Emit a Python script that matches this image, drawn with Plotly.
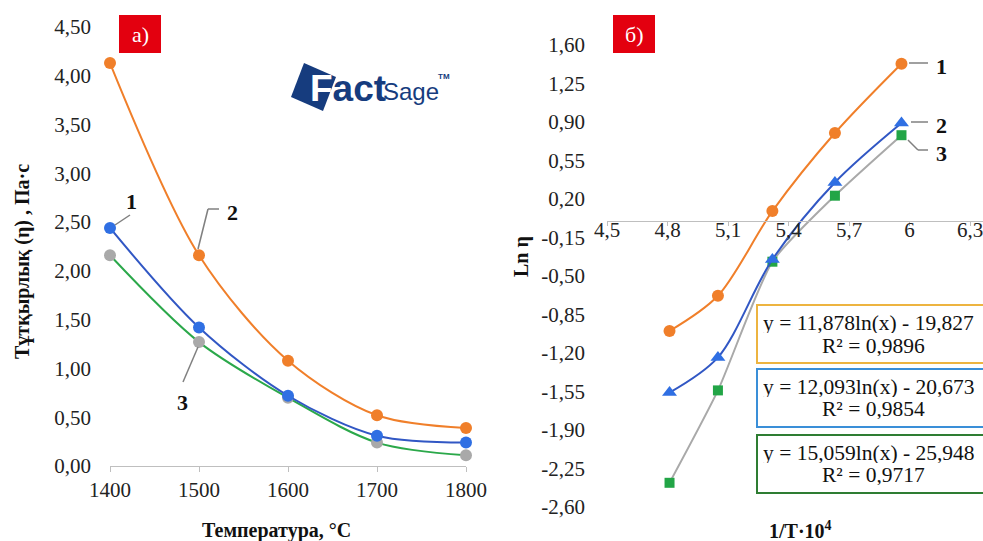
import plotly.graph_objects as go

W, H = 983, 541

# ---------------- data ----------------
temps = [1400, 1500, 1600, 1700, 1800]
eta_1 = [2.44, 1.42, 0.72, 0.31, 0.24]      # blue, label 1
eta_2 = [4.13, 2.16, 1.08, 0.52, 0.39]      # orange, label 2
eta_3 = [2.16, 1.27, 0.70, 0.24, 0.11]      # gray markers / green line, label 3

inv_T = [4.81, 5.05, 5.32, 5.63, 5.96]
ln_1 = [-1.00, -0.68, 0.09, 0.80, 1.43]     # orange circles
ln_2 = [-1.56, -1.24, -0.35, 0.35, 0.89]    # blue triangles
ln_3 = [-2.38, -1.54, -0.37, 0.23, 0.78]    # green squares

y1_ticks = [0, 0.5, 1.0, 1.5, 2.0, 2.5, 3.0, 3.5, 4.0, 4.5]
y1_labels = ["0,00", "0,50", "1,00", "1,50", "2,00", "2,50", "3,00", "3,50", "4,00", "4,50"]
x1_ticks = [1400, 1500, 1600, 1700, 1800]
x1_labels = ["1400", "1500", "1600", "1700", "1800"]

y2_ticks = [-2.60, -2.25, -1.90, -1.55, -1.20, -0.85, -0.50, -0.15, 0.20, 0.55, 0.90, 1.25, 1.60]
y2_labels = ["-2,60", "-2,25", "-1,90", "-1,55", "-1,20", "-0,85", "-0,50", "-0,15",
             "0,20", "0,55", "0,90", "1,25", "1,60"]
x2_ticks = [4.5, 4.8, 5.1, 5.4, 5.7, 6.0, 6.3]
x2_labels = ["4,5", "4,8", "5,1", "5,4", "5,7", "6", "6,3"]

eq_lines = [
    ("y = 11,878ln(x) - 19,827", "R² = 0,9896", "#EDB440"),
    ("y = 12,093ln(x) - 20,673", "R² = 0,9854", "#3A8FD8"),
    ("y = 15,059ln(x) - 25,948", "R² = 0,9717", "#2E7D32"),
]

# ---------------- helpers (window pixels -> paper fractions) ----------------
def px(x):
    return x / W

def py(y):
    return 1 - y / H

SERIF = "Liberation Serif, Times New Roman, serif"
ORANGE = "#F07F2A"
BLUE_L = "#3157C4"
BLUE_M = "#2F6FE3"
GRAY = "#A9A9A9"
GREEN = "#2BA84A"
GREEN_M = "#22A546"
AXIS = "#BFBFBF"
LEAD = "#808080"

fig = go.Figure()

# ---------------- left chart ----------------
fig.add_trace(go.Scatter(x=temps, y=eta_2, mode="lines+markers",
                         line=dict(color=ORANGE, width=2, shape="spline", smoothing=0.9),
                         marker=dict(color=ORANGE, size=12), cliponaxis=False,
                         xaxis="x", yaxis="y"))
fig.add_trace(go.Scatter(x=temps, y=eta_3, mode="lines+markers",
                         line=dict(color=GREEN, width=2, shape="spline", smoothing=0.9),
                         marker=dict(color=GRAY, size=12), cliponaxis=False,
                         xaxis="x", yaxis="y"))
fig.add_trace(go.Scatter(x=temps, y=eta_1, mode="lines+markers",
                         line=dict(color=BLUE_L, width=2, shape="spline", smoothing=0.9),
                         marker=dict(color=BLUE_M, size=12), cliponaxis=False,
                         xaxis="x", yaxis="y"))

# ---------------- right chart ----------------
fig.add_trace(go.Scatter(x=inv_T, y=ln_3, mode="lines+markers",
                         line=dict(color=GRAY, width=2, shape="spline", smoothing=0.6),
                         marker=dict(color=GREEN_M, size=10, symbol="square"), cliponaxis=False,
                         xaxis="x2", yaxis="y2"))
fig.add_trace(go.Scatter(x=inv_T, y=ln_2, mode="lines+markers",
                         line=dict(color=BLUE_L, width=2, shape="spline", smoothing=0.9),
                         marker=dict(color=BLUE_M, size=13, symbol="triangle-up"), cliponaxis=False,
                         xaxis="x2", yaxis="y2"))
fig.add_trace(go.Scatter(x=inv_T, y=ln_1, mode="lines+markers",
                         line=dict(color=ORANGE, width=2, shape="spline", smoothing=0.9),
                         marker=dict(color=ORANGE, size=12), cliponaxis=False,
                         xaxis="x2", yaxis="y2"))

# x2 range so that 4.5 sits at window px 607 and the axis runs to the right edge
x2_lo = 4.5
x2_hi = 4.5 + (983 - 607) / 201.7

tickfont = dict(family=SERIF, size=21, color="#222222")

fig.update_layout(
    width=W, height=H,
    margin=dict(l=0, r=0, t=0, b=0, autoexpand=False),
    paper_bgcolor="white", plot_bgcolor="white",
    showlegend=False,
    xaxis=dict(domain=[px(110), px(466)], range=[1400, 1800], anchor="y",
               tickvals=x1_ticks, ticktext=x1_labels, tickfont=tickfont,
               showline=True, linecolor=AXIS, linewidth=1,
               ticks="outside", ticklen=5, tickcolor=AXIS, automargin=False,
               showgrid=False, zeroline=False, fixedrange=True),
    yaxis=dict(domain=[py(466), py(27)], range=[0, 4.5], anchor="x",
               tickvals=y1_ticks, ticktext=y1_labels, tickfont=tickfont,
               showline=False, ticks="", showgrid=False, zeroline=False, automargin=False,
               ticklabelstandoff=18, fixedrange=True),
    xaxis2=dict(domain=[px(607), 1.0], range=[x2_lo, x2_hi], anchor="free",
                position=py(221),
                tickvals=x2_ticks, ticktext=x2_labels, tickfont=tickfont,
                showline=True, linecolor=AXIS, linewidth=1,
                ticks="outside", ticklen=4, tickcolor=AXIS, automargin=False,
                ticklabelstandoff=-14, ticklabeloverflow="allow",
                showgrid=False, zeroline=False, fixedrange=True),
    yaxis2=dict(domain=[py(507), py(45)], range=[-2.6, 1.6], anchor="x2",
                tickvals=y2_ticks, ticktext=y2_labels, tickfont=tickfont,
                showline=False, ticks="", showgrid=False, zeroline=False, automargin=False,
                ticklabelstandoff=21, fixedrange=True),
)

shapes = []
ann = []

def text(x, y, t, size=21, bold=False, color="#111111", xanchor="center", family=SERIF, angle=0, height=None):
    d = dict(x=px(x), y=py(y), xref="paper", yref="paper", text=("<b>%s</b>" % t) if bold else t,
             showarrow=False, xanchor=xanchor, yanchor="middle", textangle=angle,
             font=dict(family=family, size=size, color=color))
    if height:
        d["height"] = height
    ann.append(d)

def seg(pts, color=LEAD, width=1.5):
    for (a, b) in zip(pts[:-1], pts[1:]):
        shapes.append(dict(type="line", xref="paper", yref="paper",
                           x0=px(a[0]), y0=py(a[1]), x1=px(b[0]), y1=py(b[1]),
                           line=dict(color=color, width=width)))

# axis titles
text(276, 530, "Температура, °С", size=20, bold=True)
text(22, 262, "Тұтқырлық (η) , Па·с", size=20, bold=True, angle=-90)
text(521, 257, "Ln η", size=20, bold=True, angle=-90)
text(800, 530, "1/T·10<sup>4</sup>", size=20, bold=True)

# red panel tags
for (x0, x1, lab) in [(119, 161, "а)"), (613, 655, "б)")]:
    shapes.append(dict(type="rect", xref="paper", yref="paper",
                       x0=px(x0), x1=px(x1), y0=py(53), y1=py(15),
                       fillcolor="#E3000F", line=dict(width=0)))
    text((x0 + x1) / 2, 34, lab, size=22, color="white")

# left labels + leaders
seg([(115, 225), (130, 215)])
text(131, 201, "1", size=22, bold=True)
seg([(198, 249), (208, 209), (219, 209)])
text(232, 212, "2", size=22, bold=True)
seg([(198, 347), (183, 382)])
text(182, 402, "3", size=22, bold=True)

# right labels + leaders
seg([(909, 63), (928, 63)])
text(941, 66, "1", size=22, bold=True)
seg([(911, 122), (928, 122)])
text(941, 125, "2", size=22, bold=True)
seg([(908, 140), (918, 150), (928, 150)])
text(941, 153, "3", size=22, bold=True)

# equation boxes
boxes = [(305, 363, 322, 345), (369, 427, 386, 408), (435, 493, 452, 474)]
for (y0, y1, t1, t2), (l1, l2, col) in zip(boxes, eq_lines):
    shapes.append(dict(type="rect", xref="paper", yref="paper",
                       x0=px(757), x1=1.02, y0=py(y1), y1=py(y0),
                       fillcolor="white", line=dict(color=col, width=2)))
    text(761, t1, l1, size=21.5, xanchor="left", height=21)
    text(873, t2, l2, size=21.5, height=21)

# FactSage logo
LOGO = "#163C7E"
shapes.append(dict(type="path", xref="paper", yref="paper",
                   path="M %f %f L %f %f L %f %f L %f %f Z" % (
                       px(304), py(63), px(336), py(77), px(323), py(111), px(291), py(97)),
                   fillcolor=LOGO, line=dict(width=0)))
ann.append(dict(x=px(308), y=py(89), xref="paper", yref="paper", showarrow=False,
                xanchor="left", yanchor="middle",
                text="<b><span style='color:white'>F</span>act</b>",
                font=dict(family="Liberation Sans, Arial, sans-serif", size=37, color=LOGO)))
ann.append(dict(x=px(381), y=py(92), xref="paper", yref="paper", showarrow=False,
                xanchor="left", yanchor="middle", text="Sage",
                font=dict(family="Liberation Sans, Arial, sans-serif", size=24, color=LOGO)))
ann.append(dict(x=px(436), y=py(76), xref="paper", yref="paper", showarrow=False,
                xanchor="left", yanchor="middle", text="<b>TM</b>",
                font=dict(family="Liberation Sans, sans-serif", size=8, color=LOGO)))

fig.update_layout(shapes=shapes, annotations=ann)
# let the figure sit flush in the 983x541 window (no default body margin), no mode bar
fig.write_html("out.html", config={"displayModeBar": False},
               post_script="document.body.style.margin='0';document.body.style.overflow='hidden';")
